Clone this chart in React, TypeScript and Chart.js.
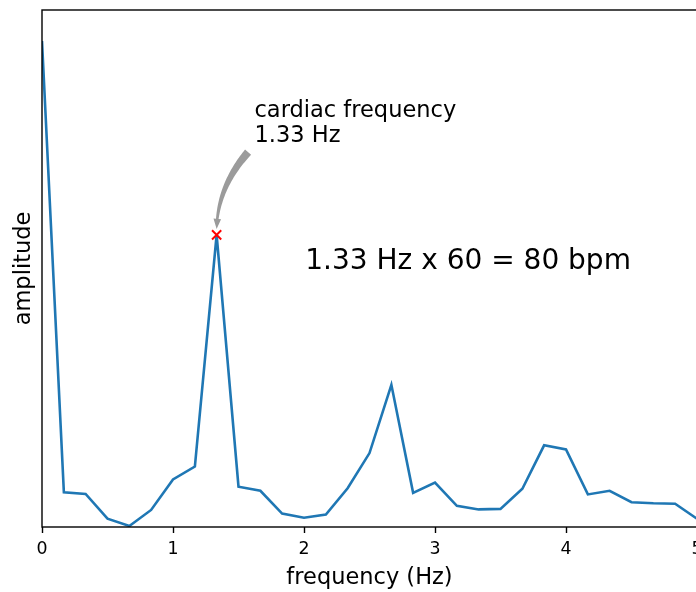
import React, { useEffect, useRef } from "react";
import { Chart, registerables } from "chart.js";

Chart.register(...registerables);

const FREQUENCY = [
  0, 0.167, 0.333, 0.5, 0.667, 0.833, 1.0, 1.167, 1.333, 1.5, 1.667, 1.833, 2.0, 2.167, 2.333, 2.5,
  2.667, 2.833, 3.0, 3.167, 3.333, 3.5, 3.667, 3.833, 4.0, 4.167, 4.333, 4.5, 4.667, 4.833, 5.0,
];
const AMPLITUDE = [
  0.94, 0.067, 0.064, 0.016, 0.002, 0.033, 0.092, 0.117, 0.565, 0.078, 0.07, 0.026, 0.018, 0.024, 0.075,
  0.143, 0.275, 0.066, 0.086, 0.041, 0.034, 0.035, 0.074, 0.158, 0.15, 0.063, 0.07, 0.048, 0.046, 0.045,
  0.016,
];
const X_TICKS = [0, 1, 2, 3, 4, 5];
const PEAK_INDEX = 8;
const ANNOT_LINES = ["cardiac frequency", "1.33 Hz"];
const ANNOT_POS = { x: 1.622, y: 0.794 };
const ARROW_TAIL = { x: 1.573, y: 0.725 };
const BPM_TEXT = "1.33 Hz x 60 = 80 bpm";
const BPM_POS = { x: 2.01, y: 0.5 };

const FONT = '"DejaVu Sans", "Liberation Sans", sans-serif';

const overlay = {
  id: "overlay",
  afterDatasetsDraw(chart: any) {
    const { ctx, chartArea, scales } = chart;
    const xs = scales.x;
    const ys = scales.y;
    ctx.save();

    // arrow
    const p0 = { x: xs.getPixelForValue(ARROW_TAIL.x), y: ys.getPixelForValue(ARROW_TAIL.y) };
    const pk = {
      x: xs.getPixelForValue(FREQUENCY[PEAK_INDEX]),
      y: ys.getPixelForValue(AMPLITUDE[PEAK_INDEX]),
    };
    const p2 = { x: pk.x, y: pk.y - 6 };
    const c = { x: p2.x + 1, y: p2.y - 42 };
    const pt = (t: number) => ({
      x: (1 - t) * (1 - t) * p0.x + 2 * (1 - t) * t * c.x + t * t * p2.x,
      y: (1 - t) * (1 - t) * p0.y + 2 * (1 - t) * t * c.y + t * t * p2.y,
    });
    const tan = (t: number) => {
      const dx = 2 * (1 - t) * (c.x - p0.x) + 2 * t * (p2.x - c.x);
      const dy = 2 * (1 - t) * (c.y - p0.y) + 2 * t * (p2.y - c.y);
      const l = Math.hypot(dx, dy) || 1;
      return { x: dx / l, y: dy / l };
    };
    const hs = 0.88;
    const N = 40;
    const left: any[] = [];
    const right: any[] = [];
    for (let i = 0; i <= N; i++) {
      const t = (hs * i) / N;
      const p = pt(t);
      const d = tan(t);
      const w = (8 - (8 - 2.6) * (t / hs)) / 2;
      left.push({ x: p.x - d.y * w, y: p.y + d.x * w });
      right.push({ x: p.x + d.y * w, y: p.y - d.x * w });
    }
    const pb = pt(hs);
    const db = tan(hs);
    const hw = 3.8;
    ctx.fillStyle = "#9b9b9b";
    ctx.beginPath();
    ctx.moveTo(left[0].x, left[0].y);
    for (const q of left) ctx.lineTo(q.x, q.y);
    ctx.lineTo(pb.x - db.y * hw, pb.y + db.x * hw);
    ctx.lineTo(p2.x, p2.y);
    ctx.lineTo(pb.x + db.y * hw, pb.y - db.x * hw);
    for (let i = right.length - 1; i >= 0; i--) ctx.lineTo(right[i].x, right[i].y);
    ctx.closePath();
    ctx.fill();

    // frame
    ctx.strokeStyle = "#000";
    ctx.lineWidth = 1.4;
    ctx.strokeRect(chartArea.left, chartArea.top, chartArea.right - chartArea.left, chartArea.bottom - chartArea.top);

    // texts
    ctx.fillStyle = "#000";
    ctx.textAlign = "left";
    ctx.textBaseline = "alphabetic";
    ctx.font = `22.5px ${FONT}`;
    const tx = xs.getPixelForValue(ANNOT_POS.x);
    const ty = ys.getPixelForValue(ANNOT_POS.y);
    ANNOT_LINES.forEach((l, i) => ctx.fillText(l, tx, ty + i * 25));
    ctx.font = `28px ${FONT}`;
    ctx.fillText(BPM_TEXT, xs.getPixelForValue(BPM_POS.x), ys.getPixelForValue(BPM_POS.y));
    ctx.restore();
  },
};

export default function App() {
  const ref = useRef<HTMLCanvasElement>(null);
  useEffect(() => {
    const lineData = FREQUENCY.map((f, i) => ({ x: f, y: AMPLITUDE[i] }));
    const chart = new Chart(ref.current as HTMLCanvasElement, {
      type: "line",
      data: {
        datasets: [
          {
            data: [{ x: FREQUENCY[PEAK_INDEX], y: AMPLITUDE[PEAK_INDEX] }],
            showLine: false,
            pointStyle: "crossRot",
            pointRadius: 6.5,
            pointBorderWidth: 2,
            borderColor: "#ff0000",
            backgroundColor: "#ff0000",
            order: 0,
          } as any,
          {
            data: lineData,
            borderColor: "#1f77b4",
            borderWidth: 2.6,
            pointRadius: 0,
            tension: 0,
            fill: false,
            order: 1,
          },
        ],
      },
      options: {
        responsive: false,
        animation: false,
        devicePixelRatio: 1,
        layout: { padding: { top: 10, right: 23, bottom: 0, left: 0 } },
        plugins: { legend: { display: false }, tooltip: { enabled: false } },
        scales: {
          x: {
            type: "linear",
            min: 0,
            max: 5,
            afterBuildTicks: (s: any) => {
              s.ticks = X_TICKS.map((v) => ({ value: v }));
            },
            ticks: {
              color: "#000",
              font: { family: FONT, size: 17.4 },
              padding: 6,
              maxRotation: 0,
              autoSkip: false,
              callback: (v: any) => String(v),
            },
            grid: {
              display: true,
              drawOnChartArea: false,
              drawTicks: true,
              tickLength: 6,
              tickColor: "#000",
              tickWidth: 1.4,
              color: "#000",
            },
            border: { display: false },
            title: {
              display: true,
              text: "frequency (Hz)",
              color: "#000",
              font: { family: FONT, size: 22.5 },
              padding: { top: 0, bottom: 0.5 },
            },
            afterFit: (s: any) => {
              s.height = 65;
            },
          },
          y: {
            min: 0,
            max: 1,
            ticks: { display: false },
            grid: { display: false },
            border: { display: false },
            title: {
              display: true,
              text: "amplitude",
              color: "#000",
              font: { family: FONT, size: 22.5 },
              padding: { top: 10.5, bottom: 0 },
            },
            afterFit: (s: any) => {
              s.width = 42;
            },
          },
        },
      },
      plugins: [overlay],
    });
    return () => chart.destroy();
  }, []);
  return (
    <div
      style={{
        position: "fixed",
        left: 0,
        top: 0,
        width: 696,
        height: 592,
        overflow: "hidden",
        background: "#fff",
      }}
    >
      <canvas ref={ref} width={720} height={592} style={{ display: "block", width: 720, height: 592 }} />
    </div>
  );
}
